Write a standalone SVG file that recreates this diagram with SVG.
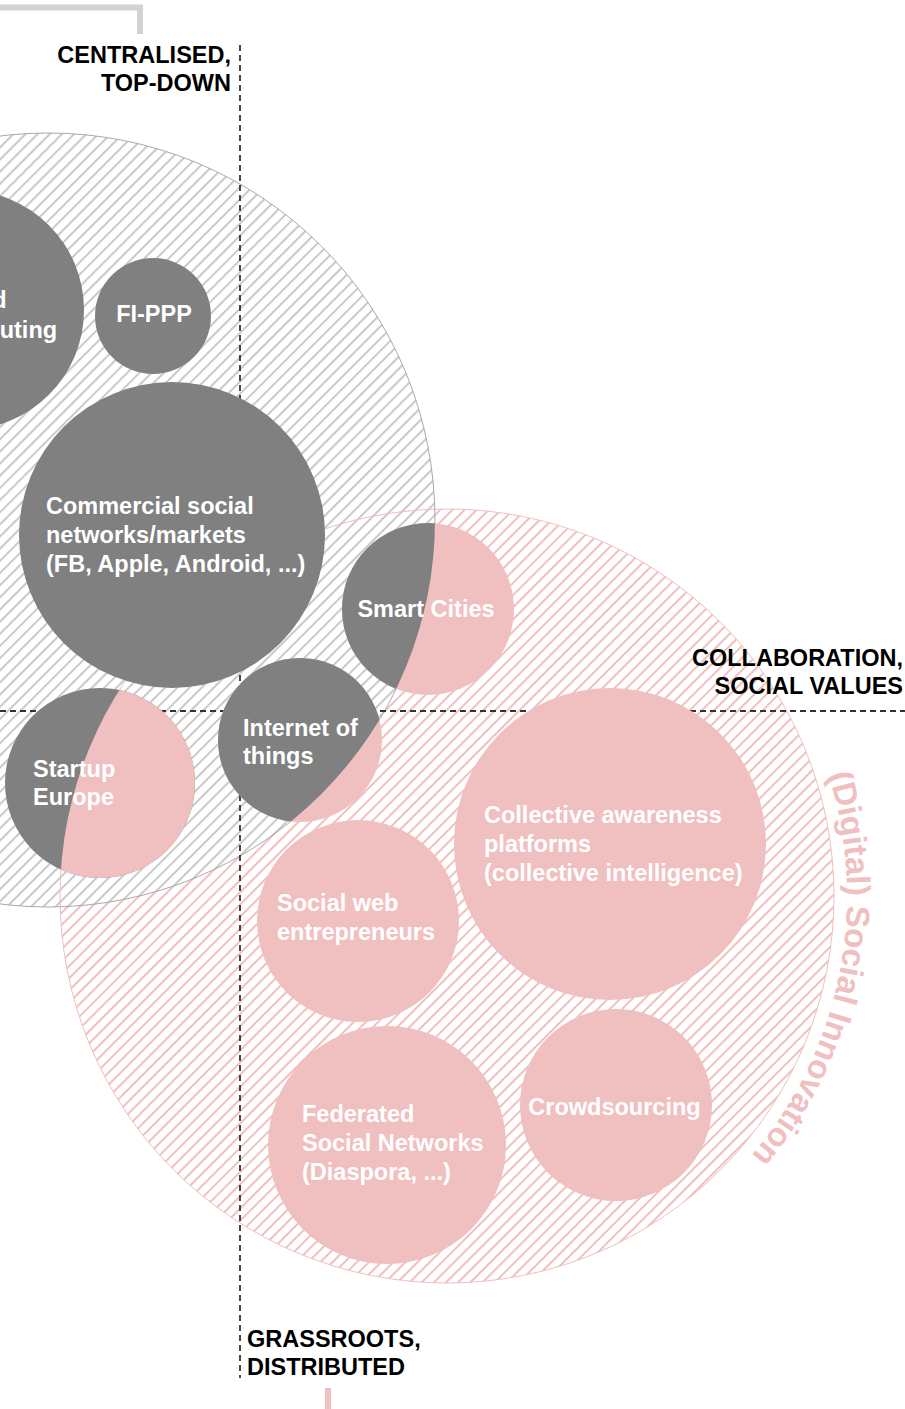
<svg xmlns="http://www.w3.org/2000/svg" width="905" height="1409" viewBox="0 0 905 1409">
<defs>
<pattern id="hg" width="8.6" height="8.6" patternUnits="userSpaceOnUse" patternTransform="rotate(45)"><rect x="0" y="0" width="8.6" height="8.6" fill="#fff"/><rect x="0" y="0" width="2" height="8.6" fill="#c9c9c9"/></pattern>
<pattern id="hp" width="8.6" height="8.6" patternUnits="userSpaceOnUse" patternTransform="rotate(45)"><rect x="0" y="0" width="2" height="8.6" fill="#f0bfbf"/></pattern>
<clipPath id="cg"><circle cx="48" cy="520" r="387"/></clipPath>
<clipPath id="cp"><circle cx="447" cy="896" r="387"/></clipPath>
<path id="arc" d="M828.3,775 A400,400 0 0,1 729.8,1178.8"/>
</defs>
<style>
.g{fill:#808080}
.p{fill:#f0bfbf}
.t{font-family:"Liberation Sans",Arial,sans-serif;font-weight:bold;font-size:23.5px;fill:#fff}
.l{font-family:"Liberation Sans",Arial,sans-serif;font-weight:bold;font-size:23.5px;fill:#000}
.d{stroke:#333;stroke-width:1.8;stroke-dasharray:6 4;fill:none}
</style>
<rect width="905" height="1409" fill="#fff"/>
<g id="bracket"><path d="M0,7.5 H140 V34" fill="none" stroke="#d2d2d2" stroke-width="6"/></g>
<g id="big-circles">
<circle cx="447" cy="896" r="387" fill="url(#hp)"/>
<circle cx="48" cy="520" r="387" fill="url(#hg)"/>
<circle cx="447" cy="896" r="387" fill="none" stroke="#f0bfbf" stroke-width="1"/>
<circle cx="48" cy="520" r="387" fill="none" stroke="#aaa" stroke-width="1"/>
</g>
<g id="connectors">
<line class="d" x1="240" y1="45" x2="240" y2="1378"/>
<line class="d" x1="0" y1="711" x2="905" y2="711"/>
</g>
<g id="cloud"><circle class="g" cx="-36" cy="310" r="120"/><text class="t" x="-60" y="308">Cloud</text><text class="t" x="-63" y="338">computing</text></g>
<g id="fippp"><circle class="g" cx="153" cy="316" r="58"/><text class="t" x="154" y="322" text-anchor="middle">FI-PPP</text></g>
<g id="commercial"><circle class="g" cx="172" cy="535" r="153"/><text class="t" x="46" y="514">Commercial social</text><text class="t" x="46" y="543">networks/markets</text><text class="t" x="46" y="572">(FB, Apple, Android, ...)</text></g>
<g id="startup"><circle class="g" cx="100" cy="783" r="95"/><circle class="p" cx="100" cy="783" r="95" clip-path="url(#cp)"/><text class="t" x="33" y="777">Startup</text><text class="t" x="33" y="805">Europe</text></g>
<g id="iot"><circle class="p" cx="300" cy="740" r="82"/><circle class="g" cx="300" cy="740" r="82" clip-path="url(#cg)"/><text class="t" x="243" y="736">Internet of</text><text class="t" x="243" y="764">things</text></g>
<g id="smart"><circle class="p" cx="428" cy="609" r="86"/><circle class="g" cx="428" cy="609" r="86" clip-path="url(#cg)"/><text class="t" x="426" y="617" text-anchor="middle">Smart Cities</text></g>
<g id="socialweb"><circle class="p" cx="358" cy="921" r="101"/><text class="t" x="277" y="911">Social web</text><text class="t" x="277" y="940">entrepreneurs</text></g>
<g id="collective"><circle class="p" cx="610" cy="844" r="156"/><text class="t" x="484" y="823">Collective awareness</text><text class="t" x="484" y="852">platforms</text><text class="t" x="484" y="881">(collective intelligence)</text></g>
<g id="crowd"><circle class="p" cx="616" cy="1105" r="96"/><text class="t" x="614.5" y="1115" text-anchor="middle">Crowdsourcing</text></g>
<g id="federated"><circle class="p" cx="387" cy="1145" r="119"/><text class="t" x="302" y="1122">Federated</text><text class="t" x="302" y="1151">Social Networks</text><text class="t" x="302" y="1180">(Diaspora, ...)</text></g>
<g id="labels">
<text class="l" x="231" y="63" text-anchor="end">CENTRALISED,</text>
<text class="l" x="231" y="91" text-anchor="end">TOP-DOWN</text>
<text class="l" x="903" y="666" text-anchor="end">COLLABORATION,</text>
<text class="l" x="903" y="694" text-anchor="end">SOCIAL VALUES</text>
<text class="l" x="247" y="1347">GRASSROOTS,</text>
<text class="l" x="247" y="1375">DISTRIBUTED</text>
<text style="font-family:'Liberation Sans',Arial,sans-serif;font-weight:bold;font-size:33px;fill:#f0bfbf"><textPath href="#arc">(Digital) Social Innovation</textPath></text>
</g>
<rect x="325" y="1388" width="6" height="21" fill="#f0bfbf"/>
</svg>
